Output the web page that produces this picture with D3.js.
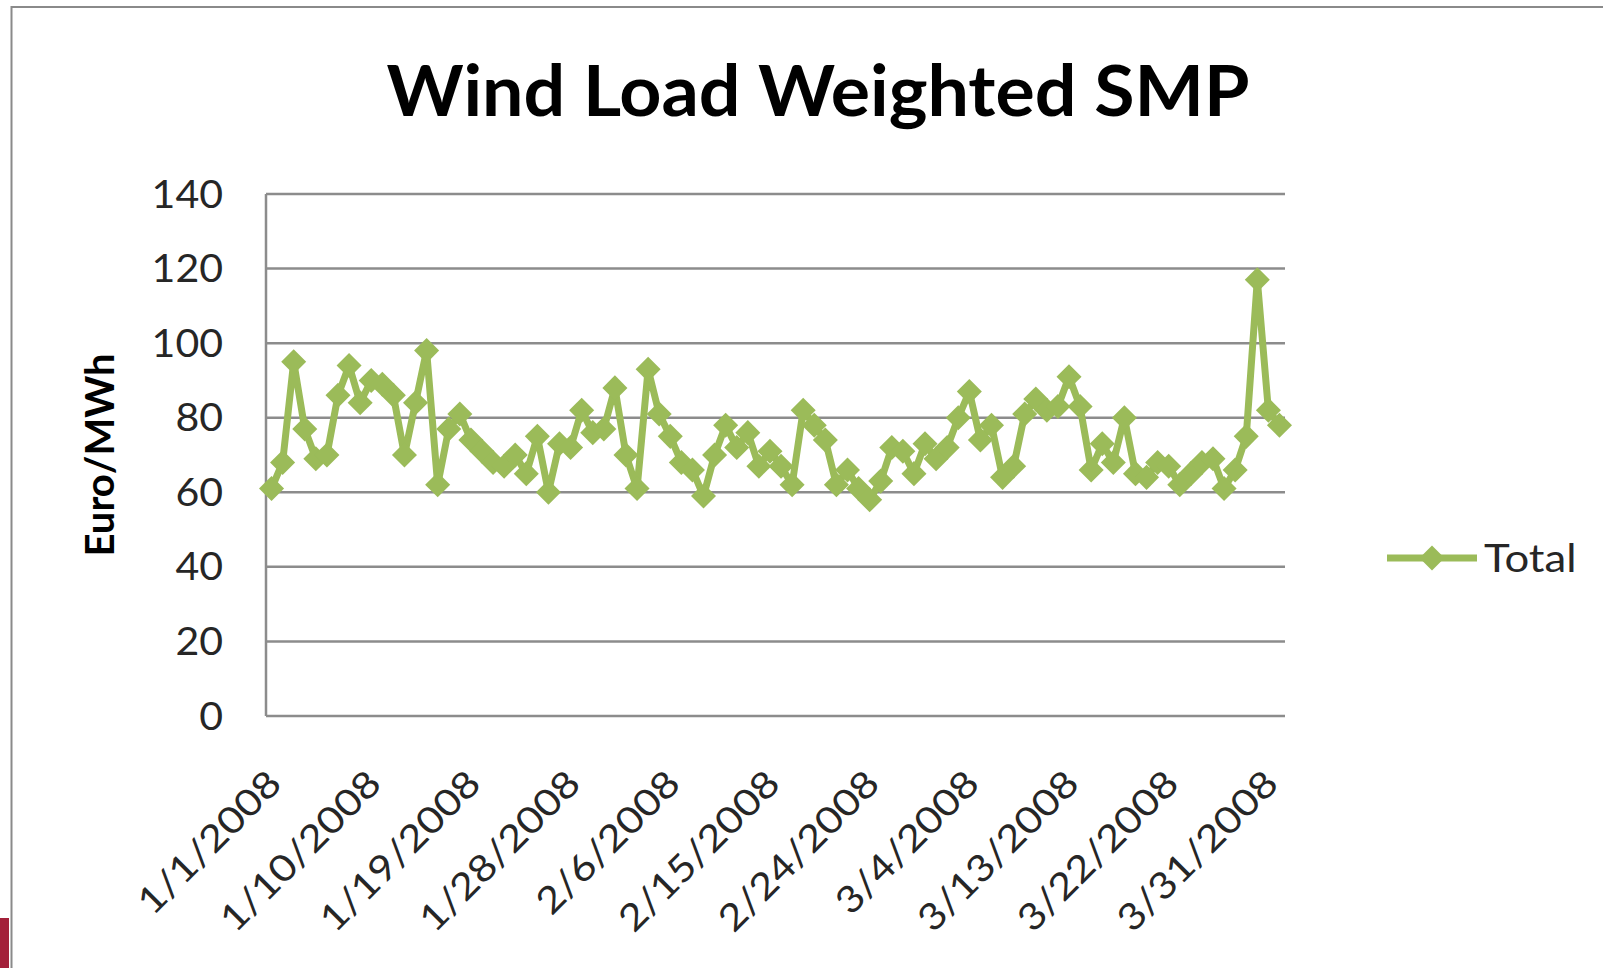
<!DOCTYPE html>
<html>
<head>
<meta charset="utf-8">
<script src="https://cdn.jsdelivr.net/npm/d3@7"></script>
<style>
  body { margin: 0; background: #fff; }
  text { font-family: Lato, "Noto Sans", sans-serif; }
</style>
</head>
<body>
<svg id="chart" width="1603" height="968"></svg>
<script>
// daily values, Euro/MWh
const janValues = [61, 68, 95, 77, 69, 70, 86, 94, 84, 90, 89, 86, 70, 84, 98,
  62, 77, 81, 74, 71, 68, 67, 70, 65, 75, 60, 73, 72, 82, 76, 77];
const febValues = [88, 70, 61, 93, 81, 75, 68, 66, 59, 70, 78, 72, 76, 67, 71,
  67, 62, 82, 78, 74, 62, 66, 61, 58, 63, 72, 71, 65, 73];
const marValues = [69, 72, 80, 87, 74, 78, 64, 67, 81, 85, 82, 83, 91, 83, 66,
  73, 68, 80, 65, 64, 68, 67, 62, 65, 68, 69, 61, 66, 75, 117, 82];
const aprValues = [78];

const yTicks = [0, 20, 40, 60, 80, 100, 120, 140];
const xTickLabels = ["1/1/2008", "1/10/2008", "1/19/2008", "1/28/2008", "2/6/2008",
  "2/15/2008", "2/24/2008", "3/4/2008", "3/13/2008", "3/22/2008", "3/31/2008"];
const seriesName = "Total";

const values = janValues.concat(febValues, marValues, aprValues);
const fmt = d3.timeFormat("%-m/%-d/%Y");
const days = d3.timeDay.range(new Date(2008, 0, 1), new Date(2008, 3, 2));
const data = days.map((d, i) => ({ label: fmt(d), value: values[i] }));

const svg = d3.select("#chart");
const green = "#9bbb59";
const grid = "#8c8c8c";

const plot = { left: 266, right: 1285, top: 194, bottom: 716 };

// outer frame + red corner bit
svg.append("path")
  .attr("d", "M11.5,968 L11.5,7 L1603,7")
  .attr("fill", "none").attr("stroke", "#8a8a8a").attr("stroke-width", 2);
svg.append("rect").attr("x", 0).attr("y", 918).attr("width", 9).attr("height", 50)
  .attr("fill", "#a3203a");

const x = d3.scalePoint()
  .domain(data.map(d => d.label))
  .range([plot.left, plot.right])
  .padding(0.5);

const y = d3.scaleLinear().domain([0, 140]).range([plot.bottom, plot.top]);

// gridlines
svg.append("g")
  .selectAll("line")
  .data(yTicks)
  .enter()
  .append("line")
  .attr("x1", plot.left).attr("x2", plot.right)
  .attr("y1", d => y(d)).attr("y2", d => y(d))
  .attr("stroke", grid).attr("stroke-width", 2.5);

// left axis line
svg.append("line")
  .attr("x1", plot.left).attr("x2", plot.left)
  .attr("y1", plot.top).attr("y2", plot.bottom)
  .attr("stroke", grid).attr("stroke-width", 2.5);

// y labels
svg.append("g")
  .selectAll("text")
  .data(yTicks)
  .enter()
  .append("text")
  .attr("transform", d => `translate(223,${y(d) + 13.5}) scale(1.08,1)`)
  .attr("text-anchor", "end")
  .attr("font-size", 38)
  .attr("fill", "#262626")
  .text(d => d);

// x labels, rotated
svg.append("g")
  .selectAll("text")
  .data(xTickLabels)
  .enter()
  .append("text")
  .attr("transform", d => `translate(${x(d) + 12},${plot.bottom + 70}) rotate(-45) scale(1.14,1)`)
  .attr("text-anchor", "end")
  .attr("font-size", 37)
  .attr("fill", "#262626")
  .text(d => d);

// title
svg.append("text")
  .attr("transform", "translate(818,116) scale(1.05,1)")
  .attr("text-anchor", "middle")
  .attr("font-size", 70)
  .attr("font-weight", 700)
  .attr("fill", "#000")
  .text("Wind Load Weighted SMP");

// y axis title
svg.append("text")
  .attr("transform", "translate(114,455) rotate(-90)")
  .attr("text-anchor", "middle")
  .attr("font-size", 40)
  .attr("font-weight", 700)
  .attr("fill", "#000")
  .text("Euro/MWh");

// the series
const line = d3.line().x(d => x(d.label)).y(d => y(d.value));

svg.append("path")
  .datum(data)
  .attr("d", line)
  .attr("fill", "none")
  .attr("stroke", green)
  .attr("stroke-width", 7)
  .attr("stroke-linejoin", "round");

const diamond = d3.symbol().type(d3.symbolDiamond2).size(400);

svg.append("g")
  .selectAll("path")
  .data(data)
  .enter()
  .append("path")
  .attr("d", diamond)
  .attr("transform", d => `translate(${x(d.label)},${y(d.value)})`)
  .attr("fill", green);

// legend
const lg = svg.append("g").attr("transform", "translate(1387,558)");
lg.append("line").attr("x1", 0).attr("x2", 90).attr("y1", 0).attr("y2", 0)
  .attr("stroke", green).attr("stroke-width", 7);
lg.append("path").attr("d", diamond).attr("transform", "translate(45,0)").attr("fill", green);
lg.append("text").attr("transform", "translate(97,14) scale(1.12,1)")
  .attr("font-size", 39).attr("fill", "#262626").text(seriesName);
</script>
</body>
</html>
